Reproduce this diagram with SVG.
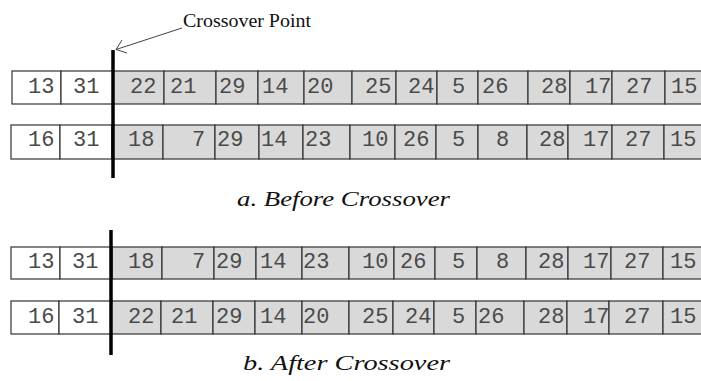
<svg xmlns="http://www.w3.org/2000/svg" width="701" height="381" viewBox="0 0 701 381">
<style>
.w{fill:#ffffff;stroke:#333;stroke-width:1.2}
.g{fill:#d9d9d9;stroke:#333;stroke-width:1.2}
.n{font-family:"Liberation Mono","Courier New",monospace;font-size:22px;fill:#4a4a4a}
.cap{font-family:"Liberation Serif","Times New Roman",serif;font-style:italic;font-size:20px;fill:#111}
.lbl{font-family:"Liberation Serif","Times New Roman",serif;font-size:18px;fill:#111}
.cut{stroke:#000;stroke-width:3.5}
.arr{stroke:#444;stroke-width:1;fill:none}
</style>
<rect width="701" height="381" fill="#fff"/>
<g id="row1">
<rect class="w" x="12" y="71" width="49" height="33"/>
<rect class="w" x="61" y="71" width="52" height="33"/>
<rect class="g" x="113" y="71" width="51" height="33"/>
<rect class="g" x="164" y="71" width="52" height="33"/>
<rect class="g" x="216" y="71" width="42" height="33"/>
<rect class="g" x="258" y="71" width="46" height="33"/>
<rect class="g" x="304" y="71" width="48" height="33"/>
<rect class="g" x="352" y="71" width="44" height="33"/>
<rect class="g" x="396" y="71" width="41" height="33"/>
<rect class="g" x="437" y="71" width="41" height="33"/>
<rect class="g" x="478" y="71" width="50" height="33"/>
<rect class="g" x="528" y="71" width="42" height="33"/>
<rect class="g" x="570" y="71" width="42" height="33"/>
<rect class="g" x="612" y="71" width="53" height="33"/>
<rect class="g" x="665" y="71" width="45" height="33"/>
<text class="n" y="93"><tspan x="28">13</tspan><tspan x="73">31</tspan><tspan x="130">22</tspan><tspan x="170">21</tspan><tspan x="219">29</tspan><tspan x="262">14</tspan><tspan x="307">20</tspan><tspan x="365">25</tspan><tspan x="408">24</tspan><tspan x="452">5</tspan><tspan x="482">26</tspan><tspan x="541">28</tspan><tspan x="585">17</tspan><tspan x="626">27</tspan><tspan x="671">15</tspan></text>
</g>
<g id="row2">
<rect class="w" x="11" y="125" width="49" height="34"/>
<rect class="w" x="60" y="125" width="52" height="34"/>
<rect class="g" x="112" y="125" width="51" height="34"/>
<rect class="g" x="163" y="125" width="52" height="34"/>
<rect class="g" x="215" y="125" width="44" height="34"/>
<rect class="g" x="259" y="125" width="44" height="34"/>
<rect class="g" x="303" y="125" width="47" height="34"/>
<rect class="g" x="350" y="125" width="45" height="34"/>
<rect class="g" x="395" y="125" width="41" height="34"/>
<rect class="g" x="436" y="125" width="42" height="34"/>
<rect class="g" x="478" y="125" width="49" height="34"/>
<rect class="g" x="527" y="125" width="41" height="34"/>
<rect class="g" x="568" y="125" width="44" height="34"/>
<rect class="g" x="612" y="125" width="52" height="34"/>
<rect class="g" x="664" y="125" width="46" height="34"/>
<text class="n" y="146"><tspan x="28">16</tspan><tspan x="73">31</tspan><tspan x="128">18</tspan><tspan x="192">7</tspan><tspan x="217">29</tspan><tspan x="261">14</tspan><tspan x="305">23</tspan><tspan x="362">10</tspan><tspan x="403">26</tspan><tspan x="452">5</tspan><tspan x="496">8</tspan><tspan x="539">28</tspan><tspan x="583">17</tspan><tspan x="625">27</tspan><tspan x="670">15</tspan></text>
</g>
<g id="row3">
<rect class="w" x="11" y="247" width="49" height="32"/>
<rect class="w" x="60" y="247" width="52" height="32"/>
<rect class="g" x="112" y="247" width="50" height="32"/>
<rect class="g" x="162" y="247" width="52" height="32"/>
<rect class="g" x="214" y="247" width="42" height="32"/>
<rect class="g" x="256" y="247" width="46" height="32"/>
<rect class="g" x="302" y="247" width="47" height="32"/>
<rect class="g" x="349" y="247" width="45" height="32"/>
<rect class="g" x="394" y="247" width="41" height="32"/>
<rect class="g" x="435" y="247" width="42" height="32"/>
<rect class="g" x="477" y="247" width="49" height="32"/>
<rect class="g" x="526" y="247" width="42" height="32"/>
<rect class="g" x="568" y="247" width="43" height="32"/>
<rect class="g" x="611" y="247" width="52" height="32"/>
<rect class="g" x="663" y="247" width="47" height="32"/>
<text class="n" y="268"><tspan x="28">13</tspan><tspan x="72">31</tspan><tspan x="128">18</tspan><tspan x="192">7</tspan><tspan x="216">29</tspan><tspan x="260">14</tspan><tspan x="303">23</tspan><tspan x="362">10</tspan><tspan x="400">26</tspan><tspan x="452">5</tspan><tspan x="496">8</tspan><tspan x="538">28</tspan><tspan x="583">17</tspan><tspan x="624">27</tspan><tspan x="670">15</tspan></text>
</g>
<g id="row4">
<rect class="w" x="11" y="301" width="48" height="33"/>
<rect class="w" x="59" y="301" width="52" height="33"/>
<rect class="g" x="111" y="301" width="50" height="33"/>
<rect class="g" x="161" y="301" width="52" height="33"/>
<rect class="g" x="213" y="301" width="42" height="33"/>
<rect class="g" x="255" y="301" width="47" height="33"/>
<rect class="g" x="302" y="301" width="47" height="33"/>
<rect class="g" x="349" y="301" width="44" height="33"/>
<rect class="g" x="393" y="301" width="41" height="33"/>
<rect class="g" x="434" y="301" width="42" height="33"/>
<rect class="g" x="476" y="301" width="48" height="33"/>
<rect class="g" x="524" y="301" width="43" height="33"/>
<rect class="g" x="567" y="301" width="42" height="33"/>
<rect class="g" x="609" y="301" width="54" height="33"/>
<rect class="g" x="663" y="301" width="47" height="33"/>
<text class="n" y="323"><tspan x="28">16</tspan><tspan x="72">31</tspan><tspan x="128">22</tspan><tspan x="171">21</tspan><tspan x="216">29</tspan><tspan x="260">14</tspan><tspan x="303">20</tspan><tspan x="362">25</tspan><tspan x="405">24</tspan><tspan x="452">5</tspan><tspan x="478">26</tspan><tspan x="538">28</tspan><tspan x="583">17</tspan><tspan x="624">27</tspan><tspan x="670">15</tspan></text>
</g>
<g id="crossover-lines">
<line class="cut" x1="113" y1="50" x2="113" y2="178"/>
<line class="cut" x1="111" y1="230" x2="111" y2="355"/>
</g>
<g id="label">
<text class="lbl" x="183" y="27" textLength="128" lengthAdjust="spacingAndGlyphs">Crossover Point</text>
</g>
<g id="connectors">
<line class="arr" x1="182" y1="28" x2="116" y2="49.5"/>
<polyline class="arr" points="122,40 116,49.5 127,53"/>
</g>
<g id="captions">
<text class="cap" x="237" y="206" textLength="213" lengthAdjust="spacingAndGlyphs">a. Before Crossover</text>
<text class="cap" x="243" y="370" textLength="207" lengthAdjust="spacingAndGlyphs">b. After Crossover</text>
</g>
</svg>
